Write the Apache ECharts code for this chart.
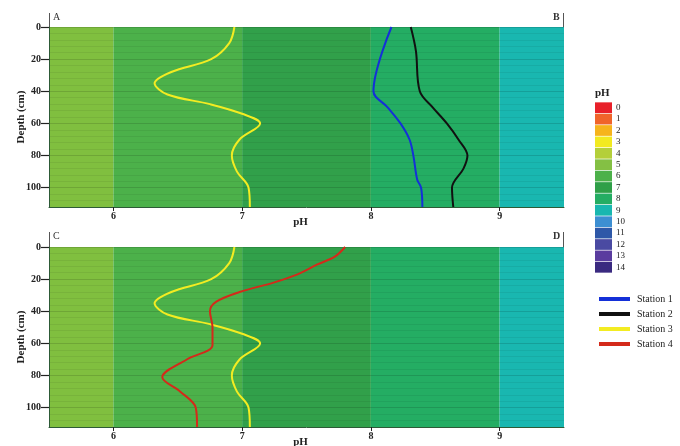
<!DOCTYPE html>
<html>
<head>
<meta charset="utf-8">
<script src="https://cdn.jsdelivr.net/npm/echarts@6/dist/echarts.min.js"></script>
<style>
  html, body { margin: 0; padding: 0; background: #fff; }
  #main { width: 680px; height: 446px; }
</style>
</head>
<body>
<div id="main"></div>
<script>
// pH colour bands behind both panels
var bandEdges = [5.5, 6, 7, 8, 9, 9.5];
var bandColors = ['#80bf3f', '#4cb14a', '#31a04a', '#24ad63', '#19b7b0'];

// pH colour scale
var scaleLabels = ['0','1','2','3','4','5','6','7','8','9','10','11','12','13','14'];
var scaleColors = ['#e8202a','#f0642a','#f6b41c','#f2ea20','#b4cf3a','#84c044','#4cb14a','#2f9f48',
                   '#24ad63','#19b7b0','#3d8fd2','#2e58a8','#4a4aa2','#5a3c9f','#3a2a80'];

var phTicks = [6, 7, 8, 9];
var depthTicks = [0, 20, 40, 60, 80, 100];

// depth (cm) / pH profiles
var depth1 = [0, 40, 50, 60, 70, 80, 95, 100, 112];
var ph1    = [8.16, 8.02, 8.13, 8.23, 8.30, 8.33, 8.36, 8.39, 8.40];

var depth2 = [0, 15, 40, 50, 60, 70, 80, 88, 100, 112];
var ph2    = [8.31, 8.35, 8.38, 8.48, 8.59, 8.68, 8.75, 8.72, 8.63, 8.64];

var depth3 = [0, 10, 20, 28, 35, 42, 48, 54, 60, 70, 80, 90, 100, 112];
var ph3    = [6.94, 6.90, 6.76, 6.45, 6.32, 6.42, 6.75, 7.00, 7.14, 6.98, 6.92, 6.96, 7.05, 7.06];

var depth4 = [0, 6, 11, 17, 22, 28, 34, 40, 50, 61, 70, 81, 90, 100, 112];
var ph4    = [7.80, 7.72, 7.58, 7.43, 7.25, 6.98, 6.80, 6.75, 6.77, 6.77, 6.57, 6.38, 6.52, 6.64, 6.65];

function pairs(ph, depth){
    var out = [];
    for (var i = 0; i < ph.length; i++) out.push([ph[i], depth[i]]);
    return out;
}

function bandAreas(){
    var areas = [];
    for (var i = 0; i < bandColors.length; i++) {
        areas.push([{xAxis: bandEdges[i], itemStyle: {color: bandColors[i]}}, {xAxis: bandEdges[i + 1]}]);
    }
    return areas;
}

var serif = '"Liberation Serif", "DejaVu Serif", serif';
var tops = [27, 247];

function xAxisFor(idx){
    return {
        type: 'value', gridIndex: idx, min: 5.5, max: 9.5,
        name: 'pH', nameLocation: 'middle', nameGap: 10, nameMoveOverlap: false,
        nameTextStyle: {fontFamily: serif, fontSize: 11, fontWeight: 'bold', color: '#222', padding: [0, 12, 0, 0]},
        axisLine: {show: true, onZero: false, lineStyle: {color: '#2d5a36', width: 1}},
        axisTick: {show: true, customValues: phTicks, length: 4, lineStyle: {color: '#222'}},
        axisLabel: {customValues: phTicks, fontFamily: serif, fontSize: 10, fontWeight: 'bold', color: '#222', margin: 4},
        splitLine: {show: false}
    };
}

function yAxisFor(idx){
    return {
        type: 'value', gridIndex: idx, inverse: true, min: 0, max: 112, interval: 20, z: 3,
        name: 'Depth (cm)', nameLocation: 'middle', nameGap: 22, nameMoveOverlap: false,
        nameTextStyle: {fontFamily: serif, fontSize: 11, fontWeight: 'bold', color: '#222'},
        axisLine: {show: true, lineStyle: {color: '#2d5a36', width: 1}},
        axisTick: {show: true, customValues: depthTicks, length: 8, lineStyle: {color: '#222', width: 1.2}},
        axisLabel: {customValues: depthTicks, fontFamily: serif, fontSize: 10, fontWeight: 'bold', color: '#222', margin: 8},
        splitLine: {show: true, lineStyle: {color: 'rgba(0,0,0,0.13)', width: 1}},
        minorTick: {show: false, splitNumber: 5},
        minorSplitLine: {show: true, lineStyle: {color: 'rgba(0,0,0,0.06)', width: 1}}
    };
}

function lineSeries(name, color, ph, depth, idx){
    return {
        name: name, type: 'line', xAxisIndex: idx, yAxisIndex: idx, z: 5,
        data: pairs(ph, depth), smooth: 0.35, showSymbol: false, symbol: 'none',
        lineStyle: {color: color, width: 2}, itemStyle: {color: color}
    };
}

var myChart = echarts.init(document.getElementById('main'));
var option = {
    animation: false,
    backgroundColor: '#fff',
    grid: [
        {left: 49, width: 515, top: tops[0], height: 180, outerBoundsMode: 'none'},
        {left: 49, width: 515, top: tops[1], height: 180, outerBoundsMode: 'none'},
        {left: 595, width: 17, top: 102, height: 171, outerBoundsMode: 'none'}
    ],
    xAxis: [
        xAxisFor(0), xAxisFor(1),
        {type: 'value', gridIndex: 2, min: 0, max: 1, show: false}
    ],
    yAxis: [
        yAxisFor(0), yAxisFor(1),
        {type: 'category', gridIndex: 2, data: scaleLabels, inverse: true, position: 'right',
         axisLine: {show: false}, axisTick: {show: false},
         axisLabel: {interval: 0, fontFamily: serif, fontSize: 9, color: '#222', margin: 4},
         splitLine: {show: false}}
    ],
    legend: {
        data: ['Station 1', 'Station 2', 'Station 3', 'Station 4'],
        orient: 'vertical', left: 594, top: 289,
        itemWidth: 31, itemHeight: 4, itemGap: 5, icon: 'rect',
        textStyle: {fontFamily: serif, fontSize: 10, color: '#222', padding: [0, 0, 0, 2]}
    },
    graphic: [
        {type: 'text', left: 595, top: 88, style: {text: 'pH', font: 'bold 11px ' + serif, fill: '#222'}},
        {type: 'line', shape: {x1: 49.5, y1: 13, x2: 49.5, y2: 27}, style: {stroke: '#555', lineWidth: 1}},
        {type: 'text', left: 53, top: 12, style: {text: 'A', font: '10px ' + serif, fill: '#333'}},
        {type: 'line', shape: {x1: 563.5, y1: 13, x2: 563.5, y2: 27}, style: {stroke: '#555', lineWidth: 1}},
        {type: 'text', left: 553, top: 12, style: {text: 'B', font: 'bold 10px ' + serif, fill: '#333'}},
        {type: 'line', shape: {x1: 49.5, y1: 232, x2: 49.5, y2: 247}, style: {stroke: '#555', lineWidth: 1}},
        {type: 'text', left: 53, top: 231, style: {text: 'C', font: '10px ' + serif, fill: '#333'}},
        {type: 'line', shape: {x1: 563.5, y1: 232, x2: 563.5, y2: 247}, style: {stroke: '#555', lineWidth: 1}},
        {type: 'text', left: 553, top: 231, style: {text: 'D', font: 'bold 10px ' + serif, fill: '#333'}}
    ],
    series: [
        {type: 'line', xAxisIndex: 0, yAxisIndex: 0, data: [], z: 1, silent: true,
         markArea: {silent: true, data: bandAreas()}},
        {type: 'line', xAxisIndex: 1, yAxisIndex: 1, data: [], z: 1, silent: true,
         markArea: {silent: true, data: bandAreas()}},
        lineSeries('Station 1', '#1430d8', ph1, depth1, 0),
        lineSeries('Station 2', '#111111', ph2, depth2, 0),
        lineSeries('Station 3', '#f3ec22', ph3, depth3, 0),
        lineSeries('Station 3', '#f3ec22', ph3, depth3, 1),
        lineSeries('Station 4', '#d42a1a', ph4, depth4, 1),
        {type: 'bar', xAxisIndex: 2, yAxisIndex: 2, barCategoryGap: '6%', silent: true,
         data: scaleColors.map(function(c){ return {value: 1, itemStyle: {color: c}}; })}
    ]
};
myChart.setOption(option);
</script>
</body>
</html>
